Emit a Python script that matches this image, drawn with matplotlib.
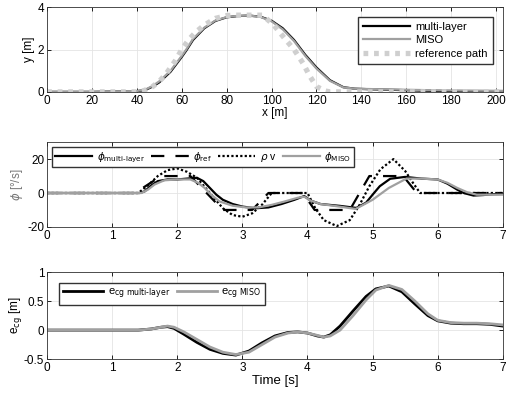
import numpy as np
import matplotlib
matplotlib.use('Agg')
from matplotlib import pyplot as plt

plt.rcParams['font.family'] = ['Liberation Sans', 'DejaVu Sans']
plt.rcParams['mathtext.fontset'] = 'dejavusans'

# --- path (top) ---
x_ml = [0, 20, 40, 44, 47, 50, 55, 60, 62, 65, 70, 75, 80, 85, 90, 95, 100, 105,
        110, 115, 120, 126, 132, 137, 145, 160, 170, 180, 190, 203]
y_ml = [0, 0, 0.03, 0.1, 0.25, 0.45, 0.95, 1.65, 1.95, 2.45, 3.0, 3.35, 3.52, 3.58,
        3.6, 3.55, 3.36, 3.0, 2.45, 1.75, 1.15, 0.55, 0.22, 0.15, 0.12, 0.08, 0.05,
        0.03, 0.02, 0.01]
x_miso = [0, 20, 40, 44, 47, 50, 55, 60, 62, 65, 70, 75, 80, 85, 90, 95, 100, 105,
          110, 115, 120, 126, 132, 137, 145, 160, 170, 180, 190, 203]
y_miso = [0, 0, 0.04, 0.12, 0.28, 0.5, 1.0, 1.7, 2.0, 2.5, 3.03, 3.37, 3.53, 3.59,
          3.6, 3.54, 3.33, 2.95, 2.4, 1.7, 1.1, 0.52, 0.21, 0.15, 0.13, 0.1, 0.08,
          0.07, 0.06, 0.05]
x_ref = [0, 40, 43, 47, 50, 53, 57, 60, 63, 66, 70, 75, 80, 83, 96, 101, 106, 110,
         114, 117, 120, 124, 126, 203]
y_ref = [0, 0, 0.05, 0.25, 0.5, 0.85, 1.45, 2.0, 2.45, 2.8, 3.15, 3.47, 3.6, 3.62,
         3.62, 3.15, 2.5, 2.0, 1.35, 0.75, 0.25, 0.04, 0, 0]

# --- yaw rate (middle) ---
t_ml = [0, 1.42, 1.5, 1.6, 1.7, 1.85, 2.0, 2.15, 2.3, 2.4, 2.5, 2.6, 2.7, 2.85,
        3.0, 3.2, 3.4, 3.6, 3.8, 3.95, 4.05, 4.2, 4.5, 4.75, 4.9, 5.0, 5.11, 5.27,
        5.5, 5.75, 6.0, 6.15, 6.3, 6.4, 6.55, 6.7, 6.85, 7.0]
phi_ml = [0, 0, 1, 4.5, 7, 8, 8, 8.5, 9, 7, 3, -1, -4, -6.5, -8, -9, -8.5, -6.5,
          -4, -1.8, -4.5, -6.5, -7.6, -8.8, -5.7, -1, 4, 8.4, 9.5, 8.5, 8, 5.5, 2,
          0, -1.5, -1.2, -0.7, -0.5]
t_miso = [0, 1.45, 1.55, 1.65, 1.8, 2.0, 2.2, 2.32, 2.42, 2.52, 2.65, 2.85, 3.05,
          3.25, 3.45, 3.65, 3.85, 3.95, 4.05, 4.2, 4.45, 4.74, 5.0, 5.25, 5.52,
          5.75, 6.0, 6.15, 6.3, 6.45, 6.6, 6.8, 7.0]
phi_miso = [0, 0, 2, 5, 7.5, 8, 8, 6, 3, -1, -5, -7.5, -8.5, -8.5, -7, -5, -2.8,
            -2.2, -4.5, -6.5, -7.8, -9.4, -4, 3, 8.5, 8.5, 8, 6, 3, 0.5, -1, -1, -1]
t_ref = [0, 1.35, 1.75, 2.2, 2.7, 3.15, 3.4, 3.93, 4.11, 4.65, 4.95, 5.47, 5.68, 7.0]
phi_ref = [0, 0, 10, 10, -10, -10, 0, 0, -10, -10, 10, 10, 0, 0]
t_rv = [0, 1.4, 1.55, 1.7, 1.85, 2.0, 2.15, 2.3, 2.5, 2.7, 2.85, 3.0, 3.15, 3.3, 3.45,
        4.0, 4.12, 4.25, 4.45, 4.65, 4.8, 4.95, 5.12, 5.32, 5.5, 5.62, 5.73, 7.0]
phi_rv = [0, 0, 4.5, 10, 13.5, 14.5, 12.5, 9, 0, -9, -13, -14, -12, -7, 0, 0, -9,
          -16, -19.5, -16, -7, 4, 14, 20, 13, 6, 0, 0]

# --- lateral error (bottom) ---
t_e = [0, 1.4, 1.6, 1.75, 1.85, 1.95, 2.1, 2.3, 2.5, 2.7, 2.9, 3.1, 3.3, 3.5, 3.7,
       3.85, 4.0, 4.15, 4.25, 4.35, 4.5, 4.7, 4.9, 5.05, 5.25, 5.45, 5.65, 5.85, 6.0,
       6.2, 6.4, 6.6, 6.8, 7.0]
e_ml = [0, 0, 0.02, 0.05, 0.06, 0.03, -0.07, -0.21, -0.33, -0.4, -0.43, -0.36, -0.22,
        -0.1, -0.04, -0.03, -0.05, -0.1, -0.12, -0.08, 0.07, 0.33, 0.58, 0.71, 0.76,
        0.66, 0.45, 0.25, 0.16, 0.12, 0.11, 0.11, 0.1, 0.07]
e_miso = [0, 0, 0.02, 0.05, 0.07, 0.05, -0.03, -0.16, -0.29, -0.38, -0.42, -0.38,
          -0.25, -0.12, -0.05, -0.03, -0.05, -0.09, -0.12, -0.1, 0.0, 0.25, 0.52, 0.69,
          0.77, 0.7, 0.5, 0.28, 0.17, 0.13, 0.12, 0.12, 0.11, 0.09]

black = '#000000'
gray = '#a0a0a0'
light = '#cfcfcf'
fs = 8.5

fig = plt.figure(figsize=(5.12, 3.96), dpi=100)
ax1 = fig.add_axes([0.092, 0.768, 0.890, 0.214])
ax2 = fig.add_axes([0.092, 0.427, 0.890, 0.214])
ax3 = fig.add_axes([0.092, 0.093, 0.890, 0.220])

for ax in (ax1, ax2, ax3):
    ax.grid(True, color='#e4e4e4', linewidth=0.6)
    ax.set_axisbelow(True)
    ax.tick_params(labelsize=fs, direction='in', length=3, width=0.6, pad=2,
                   top=True, right=True)
    for s in ax.spines.values():
        s.set_linewidth(0.6)
        s.set_color('#333333')

# top
ax1.plot(x_ml, y_ml, color=black, lw=1.6, label='multi-layer')
ax1.plot(x_miso, y_miso, color=gray, lw=1.6, label='MISO')
ax1.plot(x_ref, y_ref, color=light, lw=3.8, ls=(0, (0.9, 1.1)), label='reference path')
ax1.set_xlim(0, 203)
ax1.set_ylim(0, 4)
ax1.set_xticks(np.arange(0, 201, 20))
ax1.set_yticks([0, 2, 4])
ax1.set_xlabel('x [m]', fontsize=fs, labelpad=0)
ax1.set_ylabel('y [m]', fontsize=fs, labelpad=2)
ax1.legend(loc='upper right', fontsize=8, fancybox=False, edgecolor='#333333',
           framealpha=1, handlelength=4.2, borderpad=0.45, labelspacing=0.3,
           handletextpad=0.5, bbox_to_anchor=(0.99, 0.95))

# middle
ax2.plot(t_ml, phi_ml, color=black, lw=1.6, label=r'$\phi_{\mathrm{multi\text{-}layer}}$')
ax2.plot(t_ref, phi_ref, color=black, lw=1.6, ls=(0, (6, 5)), label=r'$\phi_{\mathrm{ref}}$')
ax2.plot(t_rv, phi_rv, color=black, lw=1.6, ls=(0, (1, 1)), label=r'$\rho$ v')
ax2.plot(t_miso, phi_miso, color=gray, lw=1.6, label=r'$\phi_{\mathrm{MISO}}$')
ax2.set_xlim(0, 7)
ax2.set_ylim(-20, 30)
ax2.set_yticks([-20, 0, 20])
ax2.set_yticklabels(['-20', '0', '20'])
ax2.set_ylabel(r'$\phi$ [°/s]', fontsize=fs, color='#777777', labelpad=2)
ax2.legend(loc='upper left', ncol=4, fontsize=7.5, fancybox=False, edgecolor='#333333',
           framealpha=1, handlelength=3.6, borderpad=0.25, columnspacing=0.6,
           handletextpad=0.4)

# bottom
ax3.plot(t_e, e_ml, color=black, lw=2.0, label=r'e$_{\mathrm{cg\ multi\text{-}layer}}$')
ax3.plot(t_e, e_miso, color=gray, lw=2.0, label=r'e$_{\mathrm{cg\ MISO}}$')
ax3.set_xlim(0, 7)
ax3.set_ylim(-0.5, 1)
ax3.set_yticks([-0.5, 0, 0.5, 1])
ax3.set_yticklabels(['-0.5', '0', '0.5', '1'])
ax3.set_xlabel('Time [s]', fontsize=9.5, labelpad=1)
ax3.set_ylabel(r'e$_{\mathrm{cg}}$ [m]', fontsize=fs, labelpad=0)
ax3.legend(loc='upper left', ncol=2, fontsize=8, fancybox=False, edgecolor='#333333',
           framealpha=1, handlelength=3.6, borderpad=0.35, columnspacing=0.6,
           handletextpad=0.4, bbox_to_anchor=(0.015, 0.94))

fig.savefig('out.png', dpi=100)
